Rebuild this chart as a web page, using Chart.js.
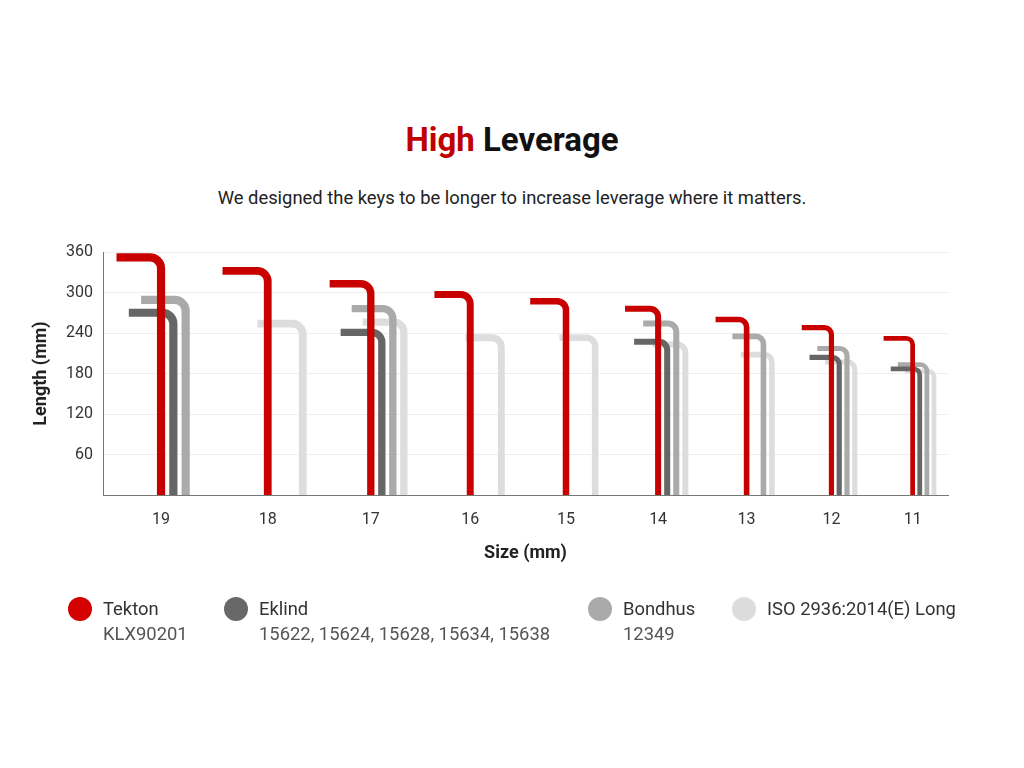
<!DOCTYPE html>
<html>
<head>
<meta charset="utf-8">
<script src="https://cdn.jsdelivr.net/npm/chart.js@4.4.1/dist/chart.umd.min.js"></script>
<style>
  html, body { margin: 0; padding: 0; background: #fff; }
  body { width: 1024px; height: 768px; position: relative; overflow: hidden; font-family: Roboto, "Noto Sans", sans-serif; }
  #chart { position: absolute; left: 0; top: 0; }
  .title { position: absolute; left: 0; width: 1024px; top: 121px; text-align: center; font-size: 33px; line-height: 38px; font-weight: 700; color: #111; }
  .title span { color: #c00000; }
  .sub { position: absolute; left: 0; width: 1024px; top: 187px; text-align: center; font-size: 18.4px; line-height: 22px; color: #222; }
  .item { position: absolute; top: 596px; }
  .dot { position: absolute; left: -35px; top: 1px; width: 24px; height: 24px; border-radius: 50%; }
  .l1 { font-size: 18.4px; line-height: 25px; color: #333; white-space: nowrap; }
  .l2 { font-size: 18.4px; line-height: 25px; color: #555; white-space: nowrap; }
</style>
</head>
<body>
<div class="title"><span>High</span> Leverage</div>
<div class="sub">We designed the keys to be longer to increase leverage where it matters.</div>
<canvas id="chart" width="1024" height="768"></canvas>
<div id="legend"></div>
<script>
// hex key sizes (mm) and long-arm lengths (mm)
var sizes = [19, 18, 17, 16, 15, 14, 13, 12, 11];
var tekton = [352, 332, 313, 297, 287, 276, 260, 248, 232];
var eklind = [270, null, 241, null, null, 227, null, 204, 187];
var bondhus = [289, null, 276, null, null, 254, 235, 217, 193];
var iso = [null, 254, 256, 233, 233, 223, 208, 197, 184];
var shortArm = [66, 67, 61, 53, 53, 49, 46, 44, 43];
var yTicks = [60, 120, 180, 240, 300, 360];

var brands = [
  { name: 'Tekton', code: 'KLX90201', color: '#c80000', dot: '#d40000', left: 103, values: tekton },
  { name: 'Eklind', code: '15622, 15624, 15628, 15634, 15638', color: '#666666', dot: '#686868', left: 259, values: eklind },
  { name: 'Bondhus', code: '12349', color: '#aaaaaa', dot: '#aaaaaa', left: 623, values: bondhus },
  { name: 'ISO 2936:2014(E) Long', code: '', color: '#dddddd', dot: '#dcdcdc', left: 767, values: iso }
];

// group centres on the x axis (same mm scale as y), gaps shrink with the key size
var centers = [];
var pos = 86;
sizes.forEach(function(s){
  centers.push(pos);
  pos += 55.5 + 5.4 * s;
});

function keyPoints(lengths, slot){
  var pts = [];
  lengths.forEach(function(len, i){
    if(len === null) return;
    pts.push({ x: centers[i] + slot * sizes[i] * 0.96, y: len, size: sizes[i], arm: shortArm[i] });
  });
  return pts;
}

// draws each key as an L with a rounded bend, back to front
var keyShapes = {
  id: 'keyShapes',
  afterDatasetsDraw: function(chart){
    var ctx = chart.ctx, xs = chart.scales.x, ys = chart.scales.y;
    var y0 = ys.getPixelForValue(0);
    for(var d = chart.data.datasets.length - 1; d >= 0; d--){
      var ds = chart.data.datasets[d];
      ctx.save();
      ctx.strokeStyle = ds.borderColor;
      ctx.lineCap = 'butt';
      ds.data.forEach(function(p){
        var x = xs.getPixelForValue(p.x);
        var y = ys.getPixelForValue(p.y);
        var xa = xs.getPixelForValue(p.x - p.arm);
        var w = xs.getPixelForValue(p.size * 0.64) - xs.getPixelForValue(0);
        ctx.lineWidth = w;
        ctx.beginPath();
        ctx.moveTo(xa, y);
        ctx.arcTo(x, y, x, y0, w * 1.35);
        ctx.lineTo(x, y0);
        ctx.stroke();
      });
      ctx.restore();
    }
  }
};

var datasets = brands.map(function(b, i){
  return {
    label: b.name,
    data: keyPoints(b.values, i),
    borderColor: b.color,
    backgroundColor: b.color,
    pointRadius: 0,
    showLine: false
  };
});

var font = 'Roboto, "Noto Sans", sans-serif';

new Chart(document.getElementById('chart'), {
  type: 'scatter',
  data: { datasets: datasets },
  plugins: [keyShapes],
  options: {
    responsive: false,
    animation: false,
    layout: { padding: { left: 28, right: 76, top: 252, bottom: 193 } },
    plugins: { legend: { display: false }, tooltip: { enabled: false } },
    scales: {
      x: {
        type: 'linear',
        min: 0,
        max: 1252,
        grid: { display: false, drawTicks: false },
        border: { display: true, color: '#777', width: 1 },
        afterBuildTicks: function(scale){
          scale.ticks = centers.map(function(v){ return { value: v }; });
        },
        afterFit: function(scale){ scale.height = 80; },
        ticks: {
          autoSkip: false,
          maxRotation: 0,
          padding: 15,
          color: '#333',
          font: { family: font, size: 16 },
          callback: function(value, index){ return sizes[index]; }
        },
        title: {
          display: true,
          text: 'Size (mm)',
          color: '#222',
          font: { family: font, size: 18, weight: 'bold' },
          padding: { top: 0, bottom: 11 }
        }
      },
      y: {
        min: 0,
        max: 360,
        grid: { color: '#eeeeee', drawTicks: false },
        border: { display: true, color: '#777', width: 1 },
        afterBuildTicks: function(scale){
          scale.ticks = yTicks.map(function(v){ return { value: v }; });
        },
        afterFit: function(scale){ scale.width = 75; },
        ticks: {
          padding: 10,
          color: '#333',
          font: { family: font, size: 16 }
        },
        title: {
          display: true,
          text: 'Length (mm)',
          color: '#222',
          font: { family: font, size: 18, weight: 'bold' },
          padding: { top: 3, bottom: 0 }
        }
      }
    }
  }
});

var legend = document.getElementById('legend');
brands.forEach(function(b){
  var item = document.createElement('div');
  item.className = 'item';
  item.style.left = b.left + 'px';
  item.innerHTML = "<div class='dot' style='background:" + b.dot + "'></div><div class='l1'>" + b.name + "</div><div class='l2'>" + b.code + "</div>";
  legend.appendChild(item);
});
</script>
</body>
</html>
